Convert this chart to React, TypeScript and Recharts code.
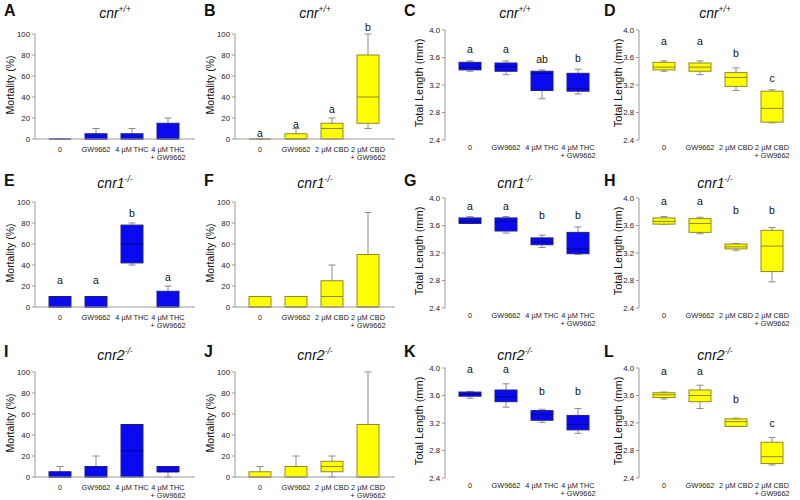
import React from "react";
import { ComposedChart, Bar, XAxis, YAxis, ReferenceDot } from "recharts";

const FONT = '"Liberation Sans", Arial, sans-serif';

const THC_LABELS = ["0", "GW9662", "4 µM THC", "4 µM THC + GW9662"];
const CBD_LABELS = ["0", "GW9662", "2 µM CBD", "2 µM CBD + GW9662"];

const MORTALITY_TICKS = [0, 20, 40, 60, 80, 100];
const LENGTH_TICKS = [2.4, 2.8, 3.2, 3.6, 4.0];

// each row: [min, q1, median, q3, max]
const statsA = [[0, 0, 0, 0, 0], [0, 0, 0, 5, 10], [0, 0, 0, 5, 10], [0, 0, 0, 15, 20]];
const statsB = [[0, 0, 0, 0, 0], [0, 0, 0, 5, 10], [0, 0, 10, 15, 20], [10, 15, 40, 80, 100]];
const statsC = [[3.40, 3.42, 3.45, 3.53, 3.55], [3.35, 3.40, 3.47, 3.52, 3.55], [3.00, 3.12, 3.37, 3.40, 3.42], [3.07, 3.11, 3.15, 3.37, 3.43]];
const statsD = [[3.40, 3.42, 3.46, 3.53, 3.55], [3.35, 3.40, 3.46, 3.52, 3.55], [3.12, 3.18, 3.31, 3.38, 3.45], [2.65, 2.66, 2.86, 3.11, 3.13]];
const statsE = [[0, 0, 0, 10, 10], [0, 0, 0, 10, 10], [40, 42, 60, 78, 80], [0, 0, 0, 15, 20]];
const statsF = [[0, 0, 0, 10, 10], [0, 0, 0, 10, 10], [0, 0, 10, 25, 40], [0, 0, 0, 50, 90]];
const statsG = [[3.63, 3.63, 3.66, 3.71, 3.73], [3.49, 3.52, 3.66, 3.71, 3.73], [3.28, 3.32, 3.36, 3.42, 3.46], [3.18, 3.19, 3.26, 3.50, 3.58]];
const statsH = [[3.62, 3.62, 3.66, 3.71, 3.73], [3.48, 3.50, 3.63, 3.70, 3.72], [3.24, 3.26, 3.29, 3.33, 3.34], [2.78, 2.93, 3.30, 3.53, 3.57]];
const statsI = [[0, 0, 0, 5, 10], [0, 0, 0, 10, 20], [0, 0, 25, 50, 50], [0, 5, 5, 10, 10]];
const statsJ = [[0, 0, 0, 5, 10], [0, 0, 0, 10, 20], [0, 5, 10, 15, 20], [0, 0, 0, 50, 100]];
const statsK = [[3.56, 3.59, 3.62, 3.65, 3.66], [3.43, 3.51, 3.58, 3.68, 3.77], [3.21, 3.24, 3.32, 3.38, 3.40], [3.05, 3.10, 3.18, 3.31, 3.41]];
const statsL = [[3.55, 3.57, 3.61, 3.64, 3.65], [3.41, 3.51, 3.60, 3.68, 3.75], [3.15, 3.15, 3.22, 3.26, 3.27], [2.59, 2.61, 2.71, 2.92, 2.99]];

// significance letters and the value level they sit at
const lettersB = ["a", "a", "a", "b"];
const levelsB = [6, 14, 29, 107];
const lettersC = ["a", "a", "ab", "b"];
const levelsC = [3.73, 3.73, 3.58, 3.6];
const lettersD = ["a", "a", "b", "c"];
const levelsD = [3.84, 3.84, 3.67, 3.3];
const lettersE = ["a", "a", "b", "a"];
const levelsE = [26, 26, 90, 29];
const lettersG = ["a", "a", "b", "b"];
const levelsG = [3.88, 3.88, 3.76, 3.76];
const lettersH = ["a", "a", "b", "b"];
const levelsH = [3.95, 3.95, 3.82, 3.82];
const lettersK = ["a", "a", "b", "b"];
const levelsK = [3.99, 3.99, 3.66, 3.66];
const lettersL = ["a", "a", "b", "c"];
const levelsL = [3.95, 3.95, 3.55, 3.2];

const BLUE = { fill: "#0a0af0", edge: "#20207a", median: "#000090" };
const YELLOW = { fill: "#ffff00", edge: "#8e8a24", median: "#8e8a24" };

type Colors = typeof BLUE;
type Panel = {
  tag: string;
  gene: string;
  sup: string;
  kind: "mortality" | "length";
  colors: Colors;
  labels: string[];
  stats: number[][];
  letters?: string[];
  levels?: number[];
};

const PANELS: Panel[] = [
  { tag: "A", gene: "cnr", sup: "+/+", kind: "mortality", colors: BLUE, labels: THC_LABELS, stats: statsA },
  { tag: "B", gene: "cnr", sup: "+/+", kind: "mortality", colors: YELLOW, labels: CBD_LABELS, stats: statsB, letters: lettersB, levels: levelsB },
  { tag: "C", gene: "cnr", sup: "+/+", kind: "length", colors: BLUE, labels: THC_LABELS, stats: statsC, letters: lettersC, levels: levelsC },
  { tag: "D", gene: "cnr", sup: "+/+", kind: "length", colors: YELLOW, labels: CBD_LABELS, stats: statsD, letters: lettersD, levels: levelsD },
  { tag: "E", gene: "cnr1", sup: "-/-", kind: "mortality", colors: BLUE, labels: THC_LABELS, stats: statsE, letters: lettersE, levels: levelsE },
  { tag: "F", gene: "cnr1", sup: "-/-", kind: "mortality", colors: YELLOW, labels: CBD_LABELS, stats: statsF },
  { tag: "G", gene: "cnr1", sup: "-/-", kind: "length", colors: BLUE, labels: THC_LABELS, stats: statsG, letters: lettersG, levels: levelsG },
  { tag: "H", gene: "cnr1", sup: "-/-", kind: "length", colors: YELLOW, labels: CBD_LABELS, stats: statsH, letters: lettersH, levels: levelsH },
  { tag: "I", gene: "cnr2", sup: "-/-", kind: "mortality", colors: BLUE, labels: THC_LABELS, stats: statsI },
  { tag: "J", gene: "cnr2", sup: "-/-", kind: "mortality", colors: YELLOW, labels: CBD_LABELS, stats: statsJ },
  { tag: "K", gene: "cnr2", sup: "-/-", kind: "length", colors: BLUE, labels: THC_LABELS, stats: statsK, letters: lettersK, levels: levelsK },
  { tag: "L", gene: "cnr2", sup: "-/-", kind: "length", colors: YELLOW, labels: CBD_LABELS, stats: statsL, letters: lettersL, levels: levelsL },
];

const AXIS_X = [35, 35, 45, 39];
const YLABEL_X = [10, 10, 19, 18];
const ROW_TOP = [0, 168, 338];
const TAG_TOP = [3, 5, 6];
const TITLE_TOP = [1, 3, 5];
const PAD = { left: 7, right: 9 };
const CHART_W = 205;
const CHART_H = 162;

function WhiskerShape(props: any) {
  const { x, y, width, height } = props;
  const cx = x + width / 2;
  const y2 = y + height;
  return (
    <g stroke="#8a8a8a" strokeWidth={1}>
      <line x1={cx} x2={cx} y1={y} y2={y2} />
      <line x1={cx - 3.5} x2={cx + 3.5} y1={y} y2={y} />
      <line x1={cx - 3.5} x2={cx + 3.5} y1={y2} y2={y2} />
    </g>
  );
}

function makeBoxShape(colors: Colors) {
  return (props: any) => {
    const { x, y, width, height } = props;
    if (Math.abs(height) < 0.5) {
      return <line x1={x} x2={x + width} y1={y} y2={y} stroke="#a0a0a0" strokeWidth={1} />;
    }
    return <rect x={x} y={y} width={width} height={height} fill={colors.fill} stroke={colors.edge} strokeWidth={1} />;
  };
}

function makeMedianShape(colors: Colors) {
  return (props: any) => {
    const { x, y, width } = props;
    return <line x1={x} x2={x + width} y1={y} y2={y} stroke={colors.median} strokeWidth={1} />;
  };
}

function makeCatTick(isM: boolean) {
  return (props: any) => {
    const { x, y, payload } = props;
    const parts = String(payload.value).split(" + ");
    const lines = parts.length > 1 ? [parts[0], "+ " + parts[1]] : parts;
    const first = isM ? 13 : 10;
    return (
      <text x={x} y={y} textAnchor="middle" fontSize={7.3} fill="#222" fontFamily={FONT}>
        {lines.map((l, i) => (
          <tspan key={i} x={x} y={y + first + i * 8}>
            {l}
          </tspan>
        ))}
      </text>
    );
  };
}

function BoxPanel({ panel, index }: { panel: Panel; index: number }) {
  const col = index % 4;
  const row = Math.floor(index / 4);
  const isM = panel.kind === "mortality";
  const axisX = AXIS_X[col];
  const top = isM ? 34 : 30;
  const plotH = isM ? 105 : 110;
  const rows = panel.stats.map((s, i) => ({
    cat: panel.labels[i],
    whisker: [s[0], s[4]],
    box: [s[1], s[3]],
    median: [s[2], s[2]],
  }));

  return (
    <div
      style={{
        position: "absolute",
        left: col * 200,
        top: ROW_TOP[row],
        width: 200,
        height: CHART_H,
        overflow: "hidden",
        background: "#fff",
        fontFamily: FONT,
        color: "#111",
      }}
    >
      <ComposedChart
        width={CHART_W}
        height={CHART_H}
        data={rows}
        margin={{ top, right: CHART_W - axisX - 160, left: 0, bottom: 0 }}
      >
        <XAxis xAxisId="w" dataKey="cat" hide padding={PAD} />
        <XAxis xAxisId="m" dataKey="cat" hide padding={PAD} />
        <XAxis
          dataKey="cat"
          padding={PAD}
          height={CHART_H - top - plotH}
          axisLine={isM ? { stroke: "#9a9a9a" } : false}
          tickLine={false}
          tickSize={0}
          tickMargin={0}
          interval={0}
          tick={makeCatTick(isM)}
        />
        <YAxis
          width={axisX}
          type="number"
          domain={isM ? [0, 100] : [2.4, 4.0]}
          ticks={isM ? MORTALITY_TICKS : LENGTH_TICKS}
          tickFormatter={(v: number) => (isM ? String(v) : v.toFixed(1))}
          axisLine={{ stroke: "#9a9a9a" }}
          tickLine={{ stroke: "#9a9a9a" }}
          tickSize={3}
          tickMargin={2}
          tick={{ fontSize: 7.8, fill: "#222", fontFamily: FONT }}
        />
        <Bar xAxisId="w" dataKey="whisker" barSize={22} shape={WhiskerShape} isAnimationActive={false} />
        <Bar dataKey="box" barSize={22} shape={makeBoxShape(panel.colors)} isAnimationActive={false} />
        <Bar xAxisId="m" dataKey="median" barSize={22} shape={makeMedianShape(panel.colors)} isAnimationActive={false} />
        {panel.letters &&
          panel.letters.map((l, i) => (
            <ReferenceDot
              key={i}
              x={panel.labels[i]}
              y={panel.levels ? panel.levels[i] : 0}
              ifOverflow="visible"
              shape={(p: any) => (
                <text x={p.cx} y={p.cy} textAnchor="middle" dominantBaseline="central" fontSize={10.5} fill="#111" fontFamily={FONT}>
                  {l}
                </text>
              )}
            />
          ))}
      </ComposedChart>
      <div style={{ position: "absolute", left: 4, top: TAG_TOP[row], fontSize: 16, fontWeight: 700, lineHeight: "16px" }}>
        {panel.tag}
      </div>
      <div
        style={{
          position: "absolute",
          left: 15,
          top: TITLE_TOP[row],
          width: 200,
          textAlign: "center",
          fontStyle: "italic",
          fontSize: 14,
          lineHeight: "16px",
        }}
      >
        {panel.gene}
        <sup style={{ fontSize: 8.5 }}>{panel.sup}</sup>
      </div>
      <div
        style={{
          position: "absolute",
          left: YLABEL_X[col],
          top: top + plotH / 2 - 2,
          transform: "translate(-50%, -50%) rotate(-90deg)",
          whiteSpace: "nowrap",
          fontSize: isM ? 10.5 : 11,
        }}
      >
        {isM ? "Mortality (%)" : "Total Length (mm)"}
      </div>
    </div>
  );
}

export default function App() {
  return (
    <div style={{ position: "absolute", left: 0, top: 0, width: 800, height: 500, background: "#fff" }}>
      {PANELS.map((p, i) => (
        <BoxPanel key={p.tag} panel={p} index={i} />
      ))}
    </div>
  );
}
